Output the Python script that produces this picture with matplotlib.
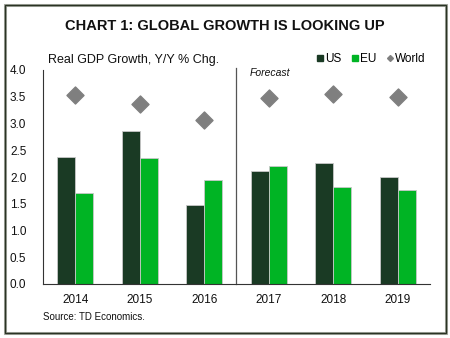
import numpy as np
import matplotlib.pyplot as plt
from matplotlib.patches import Rectangle
from matplotlib.lines import Line2D

years = ["2014", "2015", "2016", "2017", "2018", "2019"]
us = [2.37, 2.86, 1.48, 2.12, 2.27, 2.00]
eu = [1.70, 2.36, 1.95, 2.20, 1.81, 1.76]
world = [3.53, 3.36, 3.06, 3.48, 3.55, 3.50]

US_COLOR = "#1a3a24"
EU_COLOR = "#00b424"
WORLD_COLOR = "#7f7f7f"

plt.rcParams["font.family"] = ["Liberation Sans", "DejaVu Sans"]

fig = plt.figure(figsize=(4.5, 3.38), dpi=100)
ax = fig.add_axes([43 / 450, 54 / 338, 387 / 450, 214 / 338])

x = np.arange(len(years))
w = 0.28
ax.bar(x - w / 2, us, width=w, color=US_COLOR, edgecolor="#c8c8c8", linewidth=0.6, label="US", zorder=2)
ax.bar(x + w / 2, eu, width=w, color=EU_COLOR, edgecolor="#c8c8c8", linewidth=0.6, label="EU", zorder=2)
ax.scatter(x, world, marker="D", s=75, color=WORLD_COLOR, label="World", zorder=3)

ax.set_xlim(-0.5, len(years) - 0.5)
ax.set_ylim(0, 4.0)
ax.set_yticks(np.arange(0, 4.01, 0.5))
ax.set_yticklabels([f"{v:.1f}" for v in np.arange(0, 4.01, 0.5)])
ax.set_xticks(x)
ax.set_xticklabels(years)
ax.tick_params(axis="both", length=0, labelsize=8.5, colors="#111111")
ax.tick_params(axis="y", pad=12)
ax.tick_params(axis="x", pad=7)

for side in ["top", "right"]:
    ax.spines[side].set_visible(False)
ax.spines["left"].set_color("#333333")
ax.spines["bottom"].set_color("#333333")
ax.spines["left"].set_linewidth(0.8)
ax.spines["bottom"].set_linewidth(0.8)

# forecast divider
ax.axvline(2.5, ymin=0, ymax=1.01, color="#555555", linewidth=0.9, clip_on=False, zorder=1)
ax.text(2.71, 3.94, "Forecast", fontsize=7.5, style="italic", ha="left", va="center", color="#111111")

handles = [
    Line2D([], [], marker="s", linestyle="none", color=US_COLOR, markersize=5),
    Line2D([], [], marker="s", linestyle="none", color=EU_COLOR, markersize=5),
    Line2D([], [], marker="D", linestyle="none", color=WORLD_COLOR, markersize=3),
]
fig.legend(handles, ["US", "EU", "World"], loc="center", bbox_to_anchor=(371 / 450, 1 - 59 / 338),
           ncol=3, frameon=False, fontsize=8.5, handlelength=0.6, handletextpad=0.1,
           columnspacing=0.9, borderpad=0)

fig.text(225 / 450, 1 - 26 / 338, "CHART 1: GLOBAL GROWTH IS LOOKING UP", fontsize=10.5,
         fontweight="bold", ha="center", va="center", color="#111111")
fig.text(48 / 450, 1 - 60 / 338, "Real GDP Growth, Y/Y % Chg.", fontsize=9, ha="left",
         va="center", color="#111111")
fig.text(43 / 450, 1 - 317 / 338, "Source: TD Economics.", fontsize=7, ha="left",
         va="center", color="#111111")

# outer frame with a light shadow edge
fig.patches.append(Rectangle((4.5 / 450, 1 - 333 / 338), 441.5 / 450, 328.5 / 338,
                             transform=fig.transFigure, fill=False, edgecolor="#a8aca4",
                             linewidth=2.2))
fig.patches.append(Rectangle((4.5 / 450, 1 - 333 / 338), 441.5 / 450, 328.5 / 338,
                             transform=fig.transFigure, fill=False, edgecolor="#2a3324",
                             linewidth=1.0))

fig.savefig("out.png", dpi=100)
